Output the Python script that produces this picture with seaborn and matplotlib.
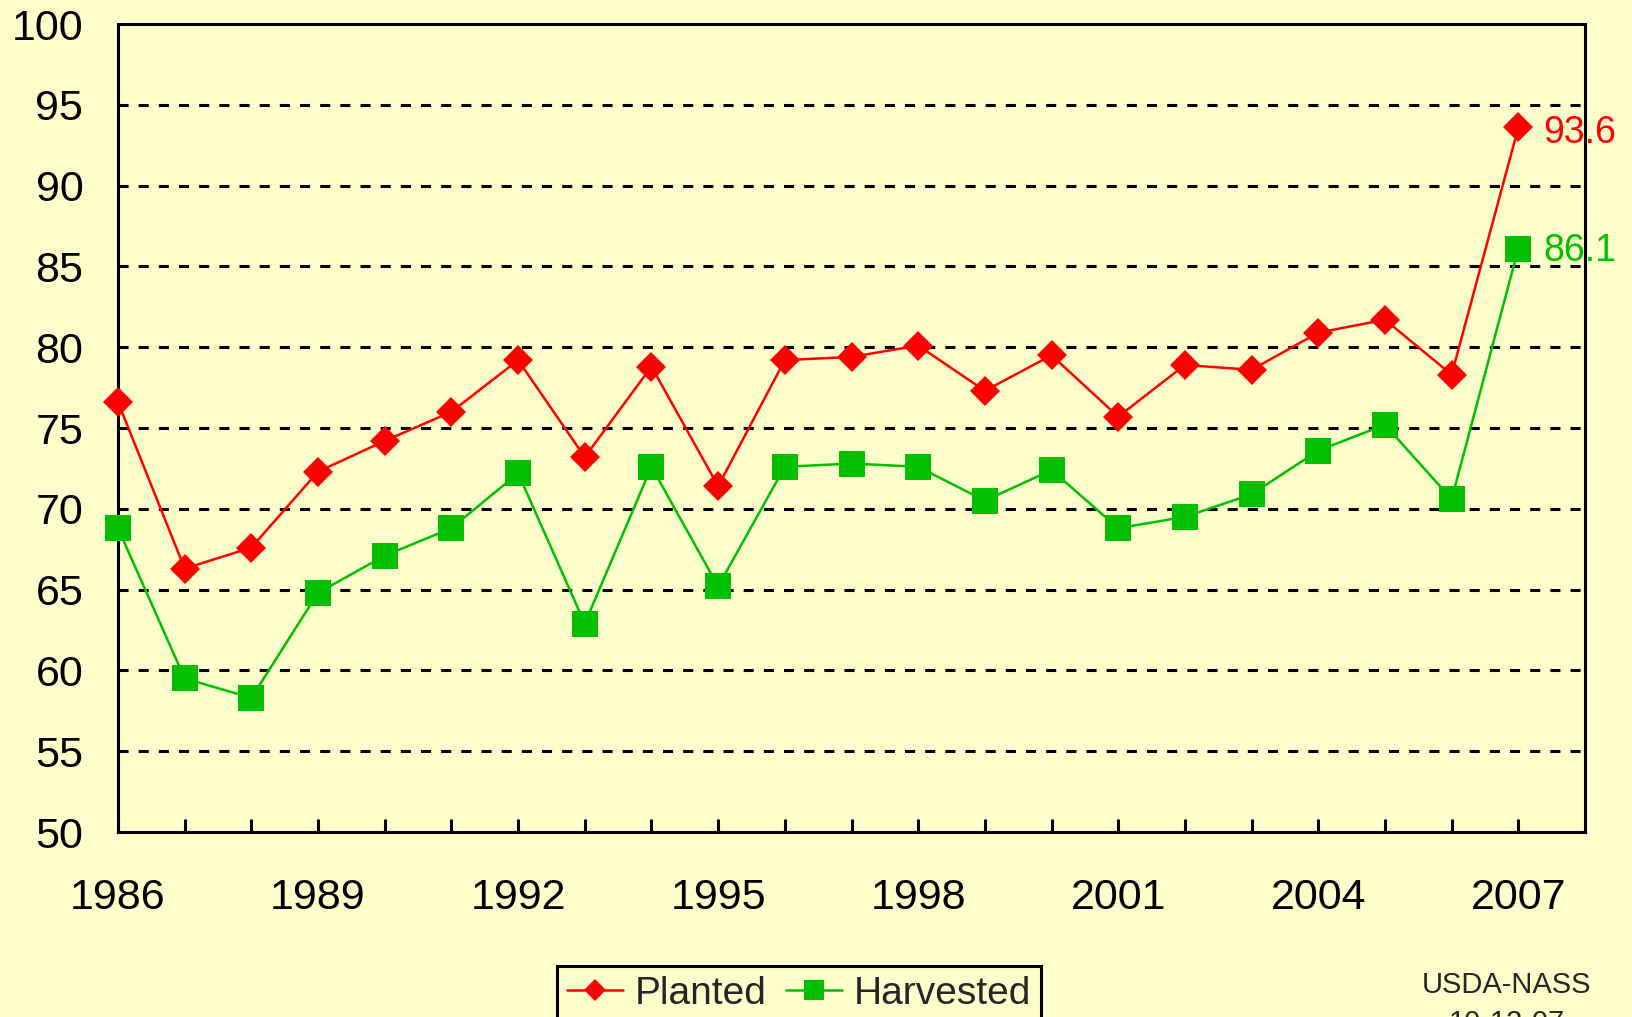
import matplotlib
matplotlib.use("Agg")
import matplotlib.pyplot as plt
import seaborn as sns
import pandas as pd

# data
years = list(range(1986, 2008))
planted = [76.6, 66.3, 67.6, 72.3, 74.2, 76.0, 79.2, 73.2, 78.8, 71.4, 79.2,
           79.4, 80.1, 77.3, 79.5, 75.7, 78.9, 78.6, 80.9, 81.7, 78.3, 93.6]
harvested = [68.8, 59.5, 58.3, 64.8, 67.1, 68.8, 72.2, 62.9, 72.6, 65.2, 72.6,
             72.8, 72.6, 70.5, 72.4, 68.8, 69.5, 70.9, 73.6, 75.2, 70.6, 86.1]
year_labels = [str(y) if (y - 1986) % 3 == 0 else "" for y in years]

df = pd.DataFrame({"Year": years, "Planted": planted, "Harvested": harvested})

bg = "#FFFFCC"
red = "#FF0000"
green = "#00C000"

sns.set_style("white")
plt.rcParams["font.family"] = ["Liberation Sans", "DejaVu Sans"]

fig = plt.figure(figsize=(16.32, 10.17), dpi=100, facecolor=bg)
ax = fig.add_axes([118 / 1632, 1 - 832 / 1017, 1467 / 1632, 808 / 1017])
ax.set_facecolor(bg)

sns.lineplot(data=df, x="Year", y="Planted", ax=ax, color=red, marker="D",
             markersize=14.8, markeredgewidth=0, linewidth=1.8, label="Planted", zorder=4)
sns.lineplot(data=df, x="Year", y="Harvested", ax=ax, color=green, marker="s",
             markersize=19.4, markeredgewidth=0, linewidth=1.8, label="Harvested", zorder=3)
for ln in ax.lines:
    ln.set_clip_on(False)

# last value labels
ax.annotate(f"{planted[-1]}", (years[-1], planted[-1]), xytext=(18, -4),
            textcoords="offset points", va="center", ha="left", color=red,
            fontsize=27, annotation_clip=False)
ax.annotate(f"{harvested[-1]}", (years[-1], harvested[-1]), xytext=(18, -2),
            textcoords="offset points", va="center", ha="left", color=green,
            fontsize=27, annotation_clip=False)

ax.set_xlim(1986, 2008)
ax.set_ylim(50, 100)
ax.set_xticks(years)
ax.set_xticklabels(year_labels)
ax.set_yticks(range(50, 101, 5))
ax.set_xlabel("")
ax.set_ylabel("")
ax.tick_params(axis="x", bottom=True, direction="in", length=9.5, width=2.2, pad=33,
               labelsize=31, colors="black")
ax.tick_params(axis="y", length=0, pad=25, labelsize=31, colors="black")

for y in range(55, 100, 5):
    ax.axhline(y, color="black", linewidth=2.2, linestyle=(0, (3.3, 3.3)), zorder=1)

for s in ax.spines.values():
    s.set_visible(True)
    s.set_color("black")
    s.set_linewidth(2.2)

leg = ax.legend(loc="upper left", bbox_to_anchor=(557 / 1632, 1 - 966 / 1017),
                bbox_transform=fig.transFigure, ncol=2, fontsize=28, frameon=True,
                fancybox=False, framealpha=1, facecolor=bg, edgecolor="black",
                markerscale=0.75, handlelength=1.45, handletextpad=0.3,
                columnspacing=0.5, borderpad=0.25, borderaxespad=0)
leg.get_frame().set_linewidth(2.2)

fig.text(1507 / 1632, 1 - 993 / 1017, "USDA-NASS", ha="center", va="baseline", fontsize=21)
fig.text(1507 / 1632, 1 - 1031 / 1017, "10-12-07", ha="center", va="baseline", fontsize=21)

fig.savefig("out.png", dpi=100, facecolor=bg)
